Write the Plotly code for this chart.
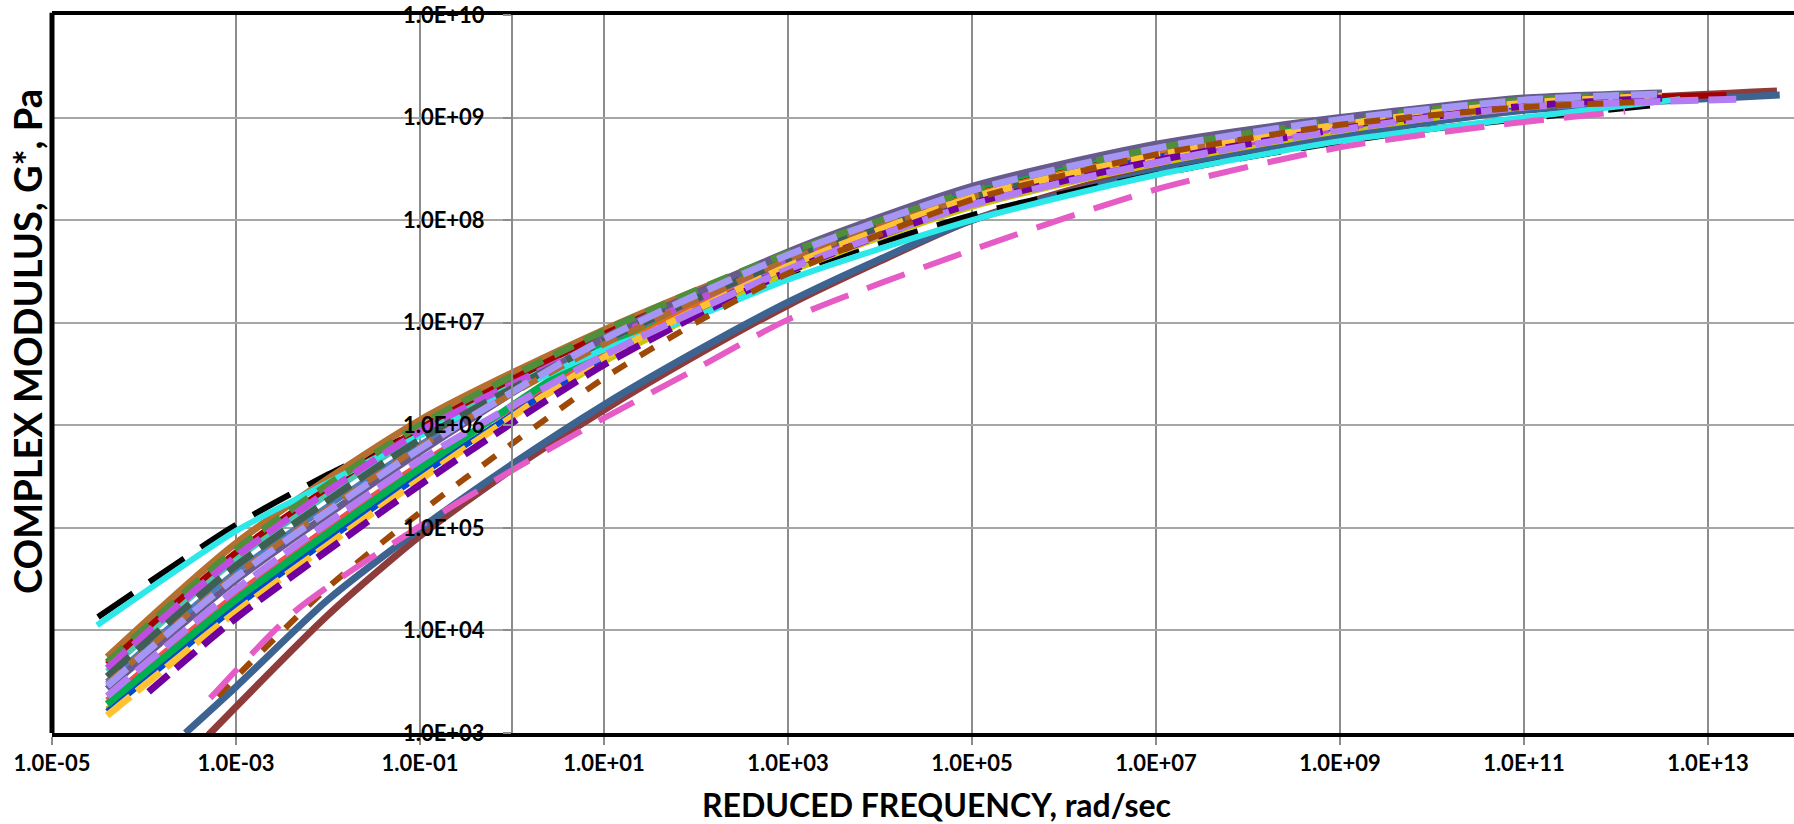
import numpy as np
import plotly.graph_objects as go

# ---- data: log10(reduced frequency, rad/s) and log10(|G*|, Pa) ----
BUNDLE_LOGF = [-4.4, -3.0, -1.0, 1.0, 3.0, 5.0, 7.0, 9.0, 11.0, 12.5]

black_f = [-4.5, -3.0, -2.0, -1.0, 0.05, 1.0, 2.4, 4.0, 5.3, 7.84, 9.83, 12.5]
black_g = [4.13, 5.03, 5.52, 5.95, 6.43, 6.78, 7.29, 7.78, 8.12, 8.59, 8.87, 9.13]

cyan_f = [-4.51, -3.0, -2.3, -1.0, 0.0, 1.0, 2.0, 3.0, 5.0, 7.0, 9.0, 11.0, 12.7]
cyan_g = [4.05, 4.97, 5.3, 5.9, 6.33, 6.74, 7.06, 7.42, 8.0, 8.44, 8.77, 9.0, 9.18]

brown_solid_g = [3.74, 4.85, 6.05, 6.93, 7.67, 8.26, 8.67, 8.96, 9.16, 9.22]
green_dash_g = [3.69, 4.79, 6.00, 6.92, 7.68, 8.28, 8.70, 8.97, 9.17, 9.23]
dark_red_g = [3.67, 4.76, 5.97, 6.89, 7.65, 8.25, 8.66, 8.95, 9.15, 9.22]
magenta_g = [3.63, 4.72, 5.94, 6.82, 7.59, 8.18, 8.60, 8.90, 9.12, 9.19]
teal_g = [3.60, 4.69, 5.91, 6.82, 7.59, 8.19, 8.61, 8.91, 9.12, 9.20]
dark_slate_g = [3.55, 4.63, 5.86, 6.82, 7.61, 8.22, 8.63, 8.93, 9.14, 9.21]
steel_blue_g = [3.50, 4.57, 5.81, 6.79, 7.59, 8.20, 8.62, 8.92, 9.13, 9.20]
tan_g = [3.48, 4.54, 5.79, 6.79, 7.61, 8.23, 8.64, 8.93, 9.14, 9.21]
lavender_g = [3.46, 4.52, 5.77, 6.84, 7.66, 8.29, 8.70, 8.98, 9.17, 9.23]
purple_grey_g = [3.43, 4.49, 5.74, 6.85, 7.69, 8.33, 8.74, 9.00, 9.19, 9.24]
light_purple_g = [3.36, 4.40, 5.66, 6.68, 7.52, 8.15, 8.56, 8.88, 9.10, 9.18]
red_g = [3.32, 4.35, 5.62, 6.68, 7.54, 8.17, 8.59, 8.90, 9.11, 9.19]
orange_g = [3.29, 4.32, 5.60, 6.73, 7.59, 8.24, 8.65, 8.94, 9.15, 9.21]
green_solid_g = [3.28, 4.30, 5.58, 6.77, 7.65, 8.31, 8.72, 8.99, 9.18, 9.23]
olive_g = [3.23, 4.25, 5.53, 6.62, 7.49, 8.13, 8.55, 8.87, 9.10, 9.18]
blue_g = [3.21, 4.23, 5.51, 6.66, 7.54, 8.19, 8.61, 8.91, 9.12, 9.20]
gold_g = [3.17, 4.18, 5.47, 6.66, 7.55, 8.22, 8.63, 8.93, 9.14, 9.21]

purple_f = [-3.95, -3.0, -1.0, 1.0, 3.0, 5.0, 7.0, 9.0, 11.0, 12.5]
purple_g = [3.40, 4.12, 5.42, 6.59, 7.50, 8.16, 8.58, 8.89, 9.11, 9.19]

light_purple_f = [-4.4, -3.0, -1.0, 1.0, 3.0, 5.0, 7.0, 9.0, 11.0, 13.4]
dark_red_f = [-4.4, -3.0, -1.0, 1.0, 3.0, 5.0, 7.0, 9.0, 11.0, 13.2]

brown_dash_f = [-3.2, -2.85, -2.0, -1.0, 0.0, 1.0, 2.0, 3.0, 5.0, 7.0, 9.0, 11.0, 12.2]
brown_dash_g = [3.36, 3.68, 4.42, 5.15, 5.82, 6.46, 7.00, 7.48, 8.20, 8.64, 8.93, 9.10, 9.15]

slate_blue_f = [-3.55, -3.0, -2.0, -1.0, 0.0, 1.0, 2.0, 3.0, 4.0, 5.0, 7.0, 9.0, 11.0, 13.78]
slate_blue_g = [3.0, 3.45, 4.30, 4.99, 5.62, 6.20, 6.72, 7.20, 7.62, 8.00, 8.48, 8.82, 9.07, 9.22]

brown_red_f = [-3.3, -2.0, -1.0, 0.0, 1.0, 2.0, 3.0, 4.0, 5.0, 7.0, 9.0, 11.0, 13.75]
brown_red_g = [2.98, 4.15, 4.92, 5.57, 6.15, 6.68, 7.17, 7.60, 8.00, 8.52, 8.87, 9.12, 9.26]

pink_f = [-3.28, -2.34, -1.1, 0.0, 1.0, 2.0, 3.0, 5.0, 7.0, 9.0, 10.74, 12.1]
pink_g = [3.34, 4.20, 4.96, 5.56, 6.07, 6.55, 7.03, 7.71, 8.30, 8.71, 8.93, 9.06]

X_TICK_EXP = [-5, -3, -1, 1, 3, 5, 7, 9, 11, 13]
X_TICK_TEXT = ["1.0E-05", "1.0E-03", "1.0E-01", "1.0E+01", "1.0E+03", "1.0E+05",
               "1.0E+07", "1.0E+09", "1.0E+11", "1.0E+13"]
Y_TICK_EXP = [3, 4, 5, 6, 7, 8, 9, 10]
Y_TICK_TEXT = ["1.0E+03", "1.0E+04", "1.0E+05", "1.0E+06", "1.0E+07", "1.0E+08",
               "1.0E+09", "1.0E+10"]

# ---- styles (drawn in this order) ----
series = [
    (brown_red_f, brown_red_g, "#8E3B3B", 7, "solid"),
    (slate_blue_f, slate_blue_g, "#3D6391", 7, "solid"),
    (black_f, black_g, "#000000", 6, "42px,20px"),
    (BUNDLE_LOGF, brown_solid_g, "#B5702F", 7, "solid"),
    (BUNDLE_LOGF, teal_g, "#4BC8B0", 6, "solid"),
    (dark_red_f, dark_red_g, "#A50000", 6, "solid"),
    (BUNDLE_LOGF, steel_blue_g, "#4A7EBB", 6, "solid"),
    (BUNDLE_LOGF, orange_g, "#E46C0A", 6, "solid"),
    (BUNDLE_LOGF, red_g, "#F24F4F", 6, "solid"),
    (BUNDLE_LOGF, olive_g, "#C8C800", 6, "solid"),
    (BUNDLE_LOGF, blue_g, "#0048D0", 6, "solid"),
    (BUNDLE_LOGF, green_solid_g, "#00B050", 7, "solid"),
    (BUNDLE_LOGF, purple_grey_g, "#675A8C", 7, "solid"),
    (cyan_f, cyan_g, "#2CE8E8", 6, "solid"),
    (BUNDLE_LOGF, green_dash_g, "#4F8F3B", 7, "22px,12px"),
    (BUNDLE_LOGF, magenta_g, "#C04DE0", 7, "26px,9px"),
    (BUNDLE_LOGF, dark_slate_g, "#3E5F52", 7, "30px,10px"),
    (BUNDLE_LOGF, tan_g, "#B06A30", 6, "18px,12px"),
    (BUNDLE_LOGF, gold_g, "#FFC233", 7, "30px,8px"),
    (purple_f, purple_g, "#7000A0", 7, "26px,10px"),
    (light_purple_f, light_purple_g, "#B47CF2", 7, "28px,10px"),
    (BUNDLE_LOGF, lavender_g, "#A596F5", 7, "26px,12px"),
    (brown_dash_f, brown_dash_g, "#9E4A06", 6, "16px,16px"),
    (pink_f, pink_g, "#E65CC6", 6, "40px,20px"),
]

fig = go.Figure()
for f, g, color, width, dash in series:
    fig.add_trace(go.Scatter(
        x=np.power(10.0, np.array(f)), y=np.power(10.0, np.array(g)),
        mode="lines", line=dict(color=color, width=width, dash=dash, shape="spline", smoothing=0.7),
        hoverinfo="skip", showlegend=False))

X_MAX_EXP = 13.935
FONT = "Lato"

fig.update_layout(
    width=1794, height=824,
    margin=dict(l=52, r=0, t=15, b=91),
    plot_bgcolor="white", paper_bgcolor="white",
    showlegend=False,
    xaxis=dict(
        type="log", range=[-5, X_MAX_EXP],
        tickvals=[10.0 ** e for e in X_TICK_EXP], ticktext=X_TICK_TEXT,
        showgrid=True, gridcolor="#8c8c8c", gridwidth=2,
        showline=True, linecolor="black", linewidth=4, mirror=True,
        ticks="outside", ticklen=8, tickwidth=2, tickcolor="#8c8c8c",
        tickfont=dict(family=FONT, size=22, color="black", weight="bold"),
        zeroline=False,
    ),
    yaxis=dict(
        type="log", range=[3, 10], anchor="free", position=5 / (X_MAX_EXP + 5),
        tickvals=[10.0 ** e for e in Y_TICK_EXP], ticktext=Y_TICK_TEXT,
        showgrid=True, gridcolor="#a6a6a6", gridwidth=2,
        showline=True, linecolor="#8c8c8c", linewidth=2,
        ticks="outside", ticklen=8, tickwidth=2, tickcolor="#8c8c8c",
        ticklabelstandoff=14,
        tickfont=dict(family=FONT, size=22, color="black", weight="bold"),
        zeroline=False,
    ),
    shapes=[
        dict(type="line", xref="paper", yref="paper", x0=0, x1=0, y0=0, y1=1.003,
             line=dict(color="black", width=5), layer="above"),
    ],
    annotations=[
        dict(text="REDUCED FREQUENCY, rad/sec", xref="paper", yref="paper",
             x=(936 - 52) / 1742, y=(733 - 804) / 718, xanchor="center", yanchor="middle",
             showarrow=False, font=dict(family=FONT, size=32, color="black", weight="bold")),
        dict(text="COMPLEX MODULUS, G*, Pa", xref="paper", yref="paper",
             x=(27 - 52) / 1742, y=(733 - 342) / 718, xanchor="center", yanchor="middle",
             textangle=-90, showarrow=False,
             font=dict(family=FONT, size=38, color="black", weight="bold")),
    ],
)

fig.write_html("out.html")
